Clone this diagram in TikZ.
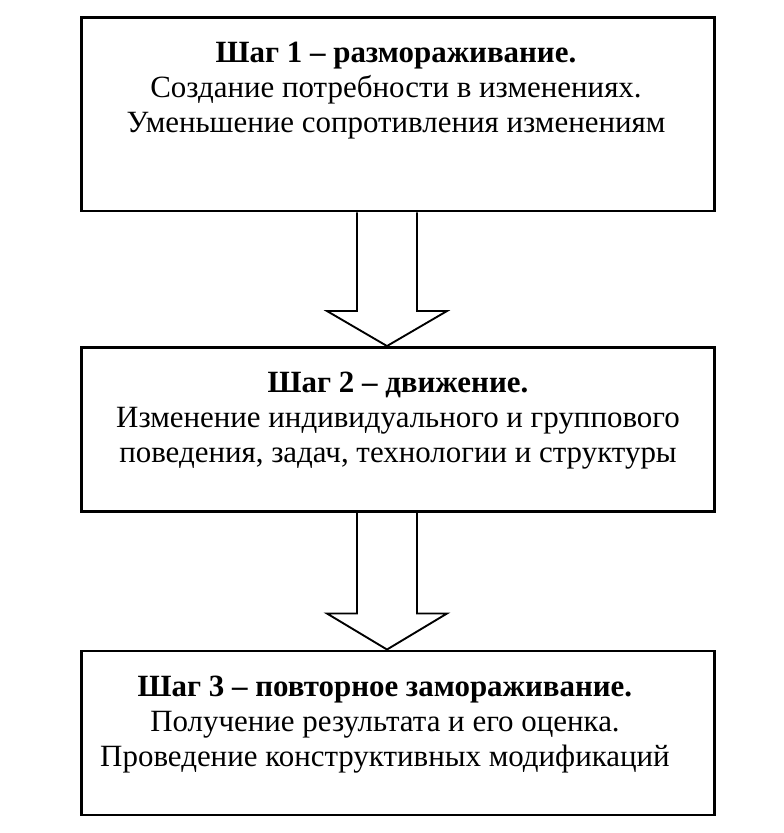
\documentclass[tikz,border=0pt]{standalone}
\usepackage{fontspec}
\setmainfont{Liberation Serif}
\usetikzlibrary{calc}

\begin{document}
\begin{tikzpicture}[x=0.75pt, y=0.75pt]
        \tikzstyle{boxstyle}=[shape=rectangle, draw, line width=2.2pt, inner sep=0pt, minimum width=633*0.75pt]
        \tikzstyle{textstyle}=[align=center, inner sep=0pt, anchor=north, font=\fontsize{23.2}{26.25}\selectfont]
        \tikzstyle{arrowstyle}=[line width=1.4pt, line join=miter]
        \useasboundingbox (0, 0) rectangle (784, 833);

        % the three step boxes, top to bottom
        \node[boxstyle, minimum height=193.5*0.75pt] at (398, 718.75) (S1) {};
        \node[boxstyle, minimum height=164*0.75pt] at (398, 403.5) (S2) {};
        \node[boxstyle, minimum height=164*0.75pt] at (398, 100) (S3) {};

        % text of each step, set at the top of its box
        \node[textstyle] at ($(S1.north)+(-2, -26)$) (T1) {\textbf{Шаг 1 – размораживание.}\\Создание потребности в изменениях.\\Уменьшение сопротивления изменениям};
        \node[textstyle] at ($(S2.north)+(0, -26)$) (T2) {\textbf{Шаг 2 – движение.}\\Изменение индивидуального и группового\\поведения, задач, технологии и структуры};
        \node[textstyle] at ($(S3.north)+(-13, -26)$) (T3) {\textbf{Шаг 3 – повторное замораживание.}\\Получение результата и его оценка.\\Проведение конструктивных модификаций};

        % block arrows between the boxes
        \coordinate (A1) at ($(S1.south)+(-11, 0)$);
        \coordinate (B1) at ($(S2.north)+(-11, 0)$);
        \draw[arrowstyle] ($(A1)+(-30, 0)$) -- ($(B1)+(-30, 35)$) -- ($(B1)+(-60, 35)$) -- (B1) -- ($(B1)+(60, 35)$) -- ($(B1)+(30, 35)$) -- ($(A1)+(30, 0)$);

        \coordinate (A2) at ($(S2.south)+(-11, 0)$);
        \coordinate (B2) at ($(S3.north)+(-11, 0)$);
        \draw[arrowstyle] ($(A2)+(-30, 0)$) -- ($(B2)+(-30, 36)$) -- ($(B2)+(-60, 36)$) -- (B2) -- ($(B2)+(60, 36)$) -- ($(B2)+(30, 36)$) -- ($(A2)+(30, 0)$);
    \end{tikzpicture}
\end{document}
